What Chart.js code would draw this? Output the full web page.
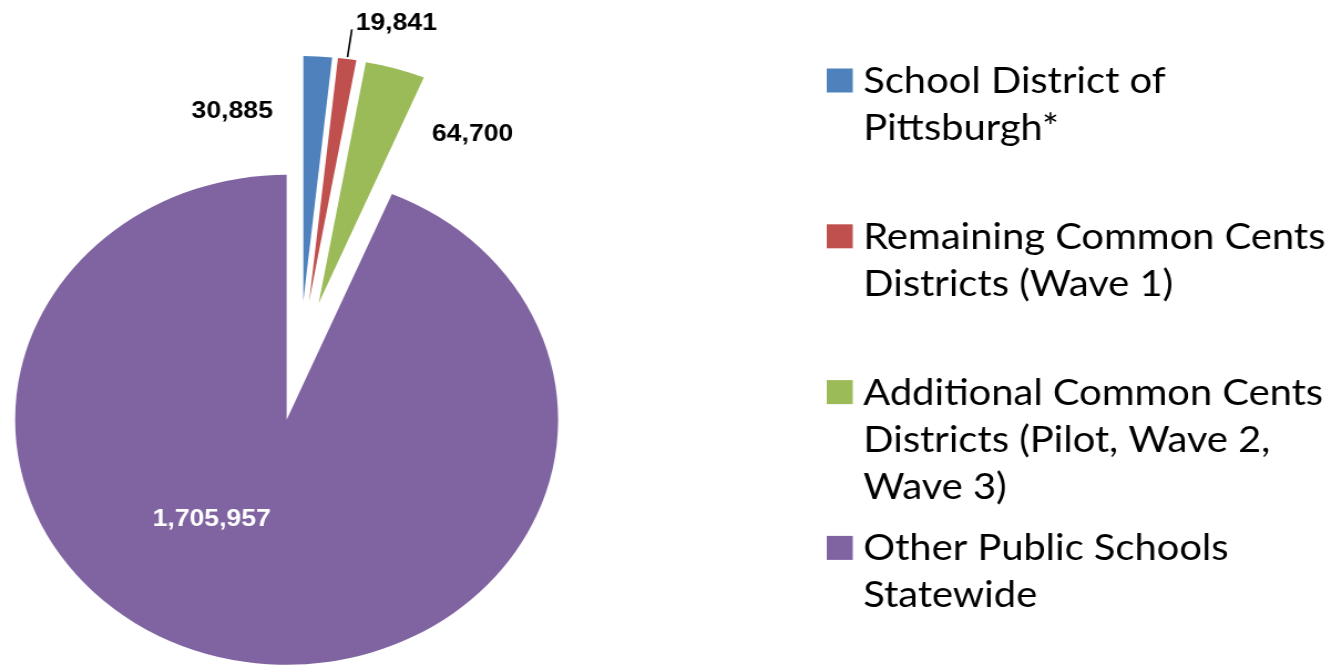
<!DOCTYPE html>
<html>
<head>
<meta charset="utf-8">
<script src="https://cdn.jsdelivr.net/npm/chart.js@4.4.0/dist/chart.umd.min.js"></script>
<style>
  html, body { margin: 0; padding: 0; background: #fff; overflow: hidden; }
  /* the source picture was stretched sideways, so the whole canvas is too */
  #wrap { width: 1201px; height: 666px; transform: scaleX(1.1082); transform-origin: 0 0; }
</style>
</head>
<body>
<div id="wrap"><canvas id="pie" width="1201" height="666"></canvas></div>
<script>
// Students by district group
const categories = [
    ['School District of', 'Pittsburgh*'],
    ['Remaining Common Cents', 'Districts (Wave 1)'],
    ['Additional Common Cents', 'Districts (Pilot, Wave 2,', 'Wave 3)'],
    ['Other Public Schools', 'Statewide']
];
const students = [30885, 19841, 64700, 1705957];

const sliceColors = ['#4F81BD', '#C0504D', '#9BBB59', '#8064A2'];
const labelColors = ['#000000', '#000000', '#000000', '#FFFFFF'];

// value label spots, measured from the tip of each exploded slice (deg clockwise from top)
const labelSpots = [
    { angle: -18.7, dist: 200 },
    { angle: 15.8, dist: 289, leader: [247, 275] },
    { angle: 39.4, dist: 219 },
    { angle: 214.3, dist: 120 }
];

const EXPLODE = 60;
const LABEL_FONT = 'bold 24px "Liberation Sans", Arial, sans-serif';
const LEGEND_FONT = '37px Lato, "Open Sans", sans-serif';
// Calibri-like width: squeeze legend text so the widest line spans this many px
const LEGEND_REF_TEXT = 'Remaining Common Cents';
const LEGEND_REF_WIDTH = 417;

// pull every slice out from the centre along its own middle angle
const explodePlugin = {
    id: 'explode',
    afterDatasetsUpdate(chart) {
        chart.getDatasetMeta(0).data.forEach(arc => {
            const mid = (arc.startAngle + arc.endAngle) / 2;
            arc.x += Math.cos(mid) * EXPLODE;
            arc.y += Math.sin(mid) * EXPLODE;
        });
    }
};

const valueLabelPlugin = {
    id: 'valueLabels',
    afterDatasetsDraw(chart) {
        const ctx = chart.ctx;
        const values = chart.data.datasets[0].data;
        ctx.save();
        ctx.font = LABEL_FONT;
        ctx.textAlign = 'center';
        ctx.textBaseline = 'middle';
        chart.getDatasetMeta(0).data.forEach((arc, i) => {
            const spot = labelSpots[i];
            if (spot.leader) {
                const mid = (arc.startAngle + arc.endAngle) / 2;
                ctx.strokeStyle = '#000';
                ctx.lineWidth = 1.6;
                ctx.beginPath();
                ctx.moveTo(arc.x + Math.cos(mid) * spot.leader[0], arc.y + Math.sin(mid) * spot.leader[0]);
                ctx.lineTo(arc.x + Math.cos(mid) * spot.leader[1], arc.y + Math.sin(mid) * spot.leader[1]);
                ctx.stroke();
            }
            const a = spot.angle * Math.PI / 180;
            const x = arc.x + Math.sin(a) * spot.dist;
            const y = arc.y - Math.cos(a) * spot.dist;
            ctx.fillStyle = labelColors[i];
            ctx.fillText(values[i].toLocaleString('en-US'), x, y);
        });
        ctx.restore();
    }
};

// legend on the right, one block per category with wrapped lines
const sideLegendPlugin = {
    id: 'sideLegend',
    afterDraw(chart) {
        const ctx = chart.ctx;
        const boxX = 746, firstY = 80.5, step = 155.8, box = 23.5, textX = 779, lineH = 47;
        ctx.save();
        ctx.font = LEGEND_FONT;
        ctx.textAlign = 'left';
        ctx.textBaseline = 'alphabetic';
        const squeeze = Math.min(1, LEGEND_REF_WIDTH / ctx.measureText(LEGEND_REF_TEXT).width);
        chart.data.labels.forEach((lines, i) => {
            const cy = firstY + i * step;
            ctx.fillStyle = sliceColors[i];
            ctx.fillRect(boxX, cy - 12, box, 24);
            ctx.fillStyle = '#000';
            lines.forEach((line, j) => {
                ctx.save();
                ctx.translate(textX, cy + 12.5 + j * lineH);
                ctx.scale(squeeze, 1);
                ctx.fillText(line, 0, 0);
                ctx.restore();
            });
        });
        ctx.restore();
    }
};

new Chart(document.getElementById('pie'), {
    type: 'pie',
    data: {
        labels: categories,
        datasets: [{
            data: students,
            backgroundColor: sliceColors,
            borderWidth: 0,
            radius: 245
        }]
    },
    options: {
        responsive: false,
        animation: false,
        devicePixelRatio: 1,
        layout: {
            padding: { left: 0, right: 660, top: 56, bottom: 0 }
        },
        plugins: {
            legend: { display: false },
            tooltip: { enabled: false }
        }
    },
    plugins: [explodePlugin, valueLabelPlugin, sideLegendPlugin]
});
</script>
</body>
</html>
